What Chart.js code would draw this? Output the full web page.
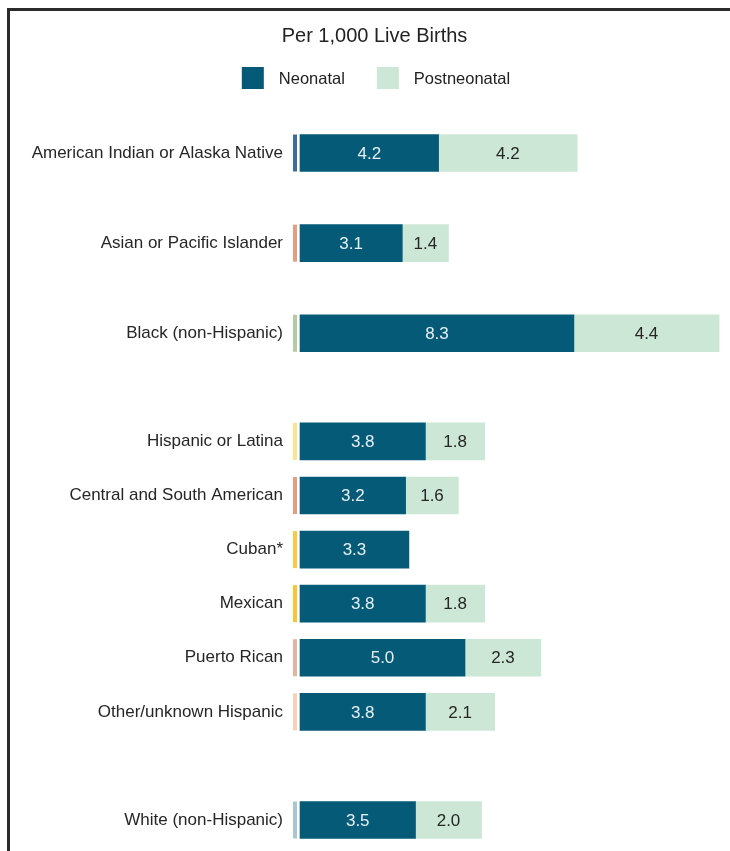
<!DOCTYPE html>
<html>
<head>
<meta charset="utf-8">
<script src="https://cdn.jsdelivr.net/npm/chart.js@4.4.1/dist/chart.umd.min.js"></script>
<style>
  html, body { margin: 0; padding: 0; background: #fff; overflow: hidden; }
  #frame { position: absolute; left: 7px; top: 8px; width: 760px; height: 900px;
           border-left: 3px solid #2b2b2b; border-top: 3px solid #2b2b2b; }
  #wrap { position: absolute; left: 0; top: 0; width: 730px; height: 851px; }
</style>
</head>
<body>
<div id="frame"></div>
<div id="wrap"><canvas id="c" width="730" height="851"></canvas></div>
<script>
// ---- data ----
const categories = [
  "American Indian or Alaska Native",
  "Asian or Pacific Islander",
  "Black (non-Hispanic)",
  "Hispanic or Latina",
  "Central and South American",
  "Cuban*",
  "Mexican",
  "Puerto Rican",
  "Other/unknown Hispanic",
  "White (non-Hispanic)"
];
const neonatal     = [4.2, 3.1, 8.3, 3.8, 3.2, 3.3, 3.8, 5.0, 3.8, 3.5];
const postneonatal = [4.2, 1.4, 4.4, 1.8, 1.6, null, 1.8, 2.3, 2.1, 2.0];
const seriesNames  = ["Neonatal", "Postneonatal"];

// ---- style / layout ----
const seriesColors = ["#055a78", "#cde7d6"];
const markerColors = ["#3a6f9c", "#e89c80", "#b5cb9b", "#fde38c", "#e89c80",
                      "#fbc93d", "#fbc52e", "#e3b59c", "#f9d0b3", "#a9c4d2"];
const rowSlots = [0, 5, 10, 16, 19, 22, 25, 28, 31, 37]; // layout slots
const totalSlots = 38;

const labels = new Array(totalSlots).fill("");
const neoData = new Array(totalSlots).fill(null);
const postData = new Array(totalSlots).fill(null);
const markerBySlot = new Array(totalSlots).fill(null);
rowSlots.forEach((s, i) => {
  labels[s] = categories[i];
  neoData[s] = neonatal[i];
  postData[s] = postneonatal[i];
  markerBySlot[s] = markerColors[i];
});

const FONT = "'Liberation Sans', Arial, Helvetica, sans-serif";

const markerPlugin = {
  id: 'markers',
  afterDatasetsDraw(chart) {
    const ctx = chart.ctx, y = chart.scales.y, left = chart.chartArea.left;
    ctx.save();
    markerBySlot.forEach((col, s) => {
      if (!col) return;
      const yp = y.getPixelForValue(s);
      ctx.fillStyle = col;
      ctx.fillRect(left - 7, yp - 18.5, 4, 37);
    });
    ctx.restore();
  }
};

const valueLabelPlugin = {
  id: 'valueLabels',
  afterDatasetsDraw(chart) {
    const ctx = chart.ctx;
    ctx.save();
    ctx.font = "17px " + FONT;
    ctx.textAlign = 'center';
    ctx.textBaseline = 'middle';
    chart.data.datasets.forEach((ds, di) => {
      const meta = chart.getDatasetMeta(di);
      meta.data.forEach((bar, i) => {
        const v = ds.data[i];
        if (v == null) return;
        const cx = (bar.x + bar.base) / 2;
        ctx.fillStyle = di === 0 ? '#e9f0f3' : '#262626';
        ctx.fillText(v.toFixed(1), cx, bar.y + 1);
      });
    });
    ctx.restore();
  }
};

const legendPlugin = {
  id: 'customLegend',
  afterDraw(chart) {
    const ctx = chart.ctx;
    ctx.save();
    ctx.font = "16.5px " + FONT;
    ctx.textBaseline = 'middle';
    const box = 22, gapText = 15, gapItem = 32, cy = 78;
    const items = chart.data.datasets.map(d => ({ text: d.label, color: d.backgroundColor, w: ctx.measureText(d.label).width }));
    let total = 0;
    items.forEach((it, i) => { total += box + gapText + it.w + (i < items.length - 1 ? gapItem : 0); });
    let x = 376 - total / 2;
    items.forEach(it => {
      ctx.fillStyle = it.color;
      ctx.fillRect(x, cy - box / 2, box, box);
      x += box + gapText;
      ctx.fillStyle = '#222';
      ctx.fillText(it.text, x, cy + 1);
      x += it.w + gapItem;
    });
    ctx.restore();
  }
};

new Chart(document.getElementById('c'), {
  type: 'bar',
  data: {
    labels: labels,
    datasets: [
      { label: seriesNames[0], data: neoData, backgroundColor: seriesColors[0], borderWidth: 0, clip: false },
      { label: seriesNames[1], data: postData, backgroundColor: seriesColors[1], borderWidth: 0, clip: false }
    ]
  },
  options: {
    indexAxis: 'y',
    responsive: false,
    animation: false,
    events: [],
    barThickness: 37,
    layout: { padding: { left: 20, right: 1, top: 0, bottom: 22 } },
    scales: {
      x: { stacked: true, display: false, min: 0, max: 13 },
      y: {
        stacked: true,
        grid: { display: false, drawTicks: false },
        border: { display: false },
        ticks: { autoSkip: false, padding: 17, color: '#262626', font: { size: 17, family: FONT } },
        afterFit(scale) { scale.width = 280; scale.paddingTop = 0; scale.paddingBottom = 0; }
      }
    },
    plugins: {
      tooltip: { enabled: false },
      title: {
        display: true,
        text: 'Per 1,000 Live Births',
        color: '#222',
        font: { size: 20, family: FONT, weight: 'normal' },
        padding: { top: 24, bottom: 96 }
      },
      legend: { display: false }
    }
  },
  plugins: [markerPlugin, valueLabelPlugin, legendPlugin]
});
</script>
</body>
</html>
